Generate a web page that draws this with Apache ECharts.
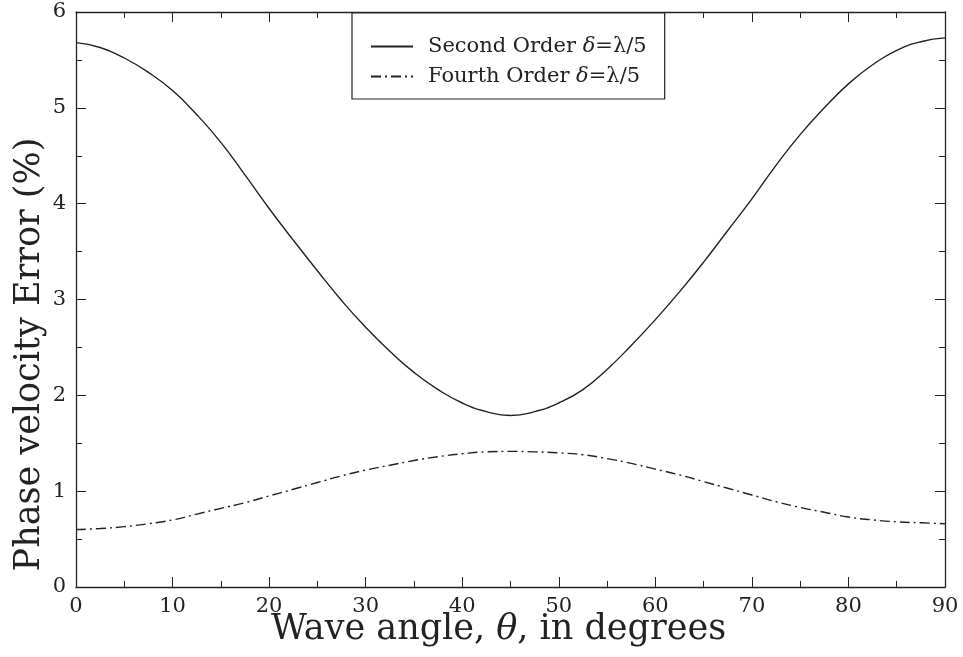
<!DOCTYPE html>
<html>
<head>
<meta charset="utf-8">
<script src="https://cdn.jsdelivr.net/npm/echarts@6/dist/echarts.min.js"></script>
<style>html,body{margin:0;padding:0;background:#fff;}#c{width:963px;height:657px;}</style>
</head>
<body>
<div id="c"></div>
<script>
const angles = [0,2.5,5,7.5,10,12.5,15,17.5,20,22.5,25,27.5,30,32.5,35,37.5,40,42.5,45,47.5,50,52.5,55,57.5,60,62.5,65,67.5,70,72.5,75,77.5,80,82.5,85,87.5,90];
const secondOrder = [5.68,5.63,5.52,5.37,5.18,4.93,4.64,4.30,3.95,3.62,3.30,2.99,2.71,2.46,2.24,2.06,1.92,1.83,1.79,1.83,1.92,2.06,2.27,2.52,2.79,3.08,3.39,3.72,4.05,4.40,4.72,5.00,5.25,5.45,5.60,5.69,5.73];
const fourthOrder = [0.60,0.61,0.63,0.66,0.70,0.76,0.82,0.88,0.95,1.02,1.09,1.16,1.22,1.27,1.32,1.36,1.39,1.41,1.415,1.41,1.40,1.38,1.34,1.29,1.23,1.17,1.10,1.03,0.96,0.89,0.83,0.78,0.73,0.70,0.68,0.67,0.66];
const seriesNames = ['Second Order δ=λ/5','Fourth Order δ=λ/5'];
const xTitle = 'Wave angle, {i|θ}, in degrees';
const yTitle = 'Phase velocity Error (%)';

const ink = '#222';
const font = 'DejaVu Serif';
const chart = echarts.init(document.getElementById('c'), null, {renderer:'canvas'});
const pair = (ys) => angles.map((a,i)=>[a, ys[i]]);
function ax(o, tickLen, showLine){
  return Object.assign({
    type:'value',
    axisLine:{show:showLine, onZero:false, lineStyle:{color:ink, width:1.3}},
    axisTick:{show:true, inside:false, length:-tickLen, lineStyle:{color:ink, width:1}},
    axisLabel:{show:false},
    splitLine:{show:false}
  }, o);
}
const xr = {min:0, max:90};
const yr = {min:0, max:6};
chart.setOption({
  backgroundColor:'#fff',
  animation:false,
  grid:{left:76, right:18, top:12, bottom:70, containLabel:false, outerBoundsMode:'none'},
  legend:{
    show:true, orient:'vertical', left:352, top:13,
    padding:[23,18,12,18], itemGap:9, itemWidth:42, itemHeight:21,
    borderColor:ink, borderWidth:1.2, backgroundColor:'#fff',
    data:[
      {name:seriesNames[0], itemStyle:{opacity:0}},
      {name:seriesNames[1], itemStyle:{opacity:0}}
    ],
    formatter: n => n.replace('δ','{i|δ}'),
    textStyle:{fontFamily:font, fontSize:21, color:ink, padding:[0,0,0,10],
      rich:{i:{fontFamily:font, fontSize:21, fontStyle:'italic', color:ink}}}
  },
  xAxis:[
    ax(Object.assign({position:'bottom', interval:10,
      name:xTitle, nameLocation:'middle', nameGap:25, nameMoveOverlap:false,
      nameTextStyle:{fontFamily:font, fontSize:35, color:ink, padding:[0,24,0,0],
        rich:{i:{fontFamily:font, fontSize:35, fontStyle:'italic', color:ink}}},
      axisLabel:{show:true, fontFamily:font, fontSize:21, color:ink, margin:9}}, xr), 10, true),
    ax(Object.assign({position:'top', interval:10}, xr), 10, true),
    ax(Object.assign({position:'bottom', interval:5}, xr), 6, false),
    ax(Object.assign({position:'top', interval:5}, xr), 6, false)
  ],
  yAxis:[
    ax(Object.assign({position:'left', interval:1,
      name:yTitle, nameLocation:'middle', nameGap:29, nameMoveOverlap:false,
      nameTextStyle:{fontFamily:font, fontSize:35, color:ink, padding:[0,110,0,0]},
      axisLabel:{show:true, fontFamily:font, fontSize:21, color:ink, margin:10}}, yr), 10, true),
    ax(Object.assign({position:'right', interval:1}, yr), 10, true),
    ax(Object.assign({position:'left', interval:0.5}, yr), 6, false),
    ax(Object.assign({position:'right', interval:0.5}, yr), 6, false)
  ],
  series:[
    {name:seriesNames[0], type:'line', data:pair(secondOrder), smooth:true, symbol:'none',
      lineStyle:{color:ink, width:1.4, type:'solid'}, itemStyle:{color:ink}},
    {name:seriesNames[1], type:'line', data:pair(fourthOrder), smooth:true, symbol:'none',
      lineStyle:{color:ink, width:1.4, type:[10,4,2,4]}, itemStyle:{color:ink}}
  ]
});
</script>
</body>
</html>
